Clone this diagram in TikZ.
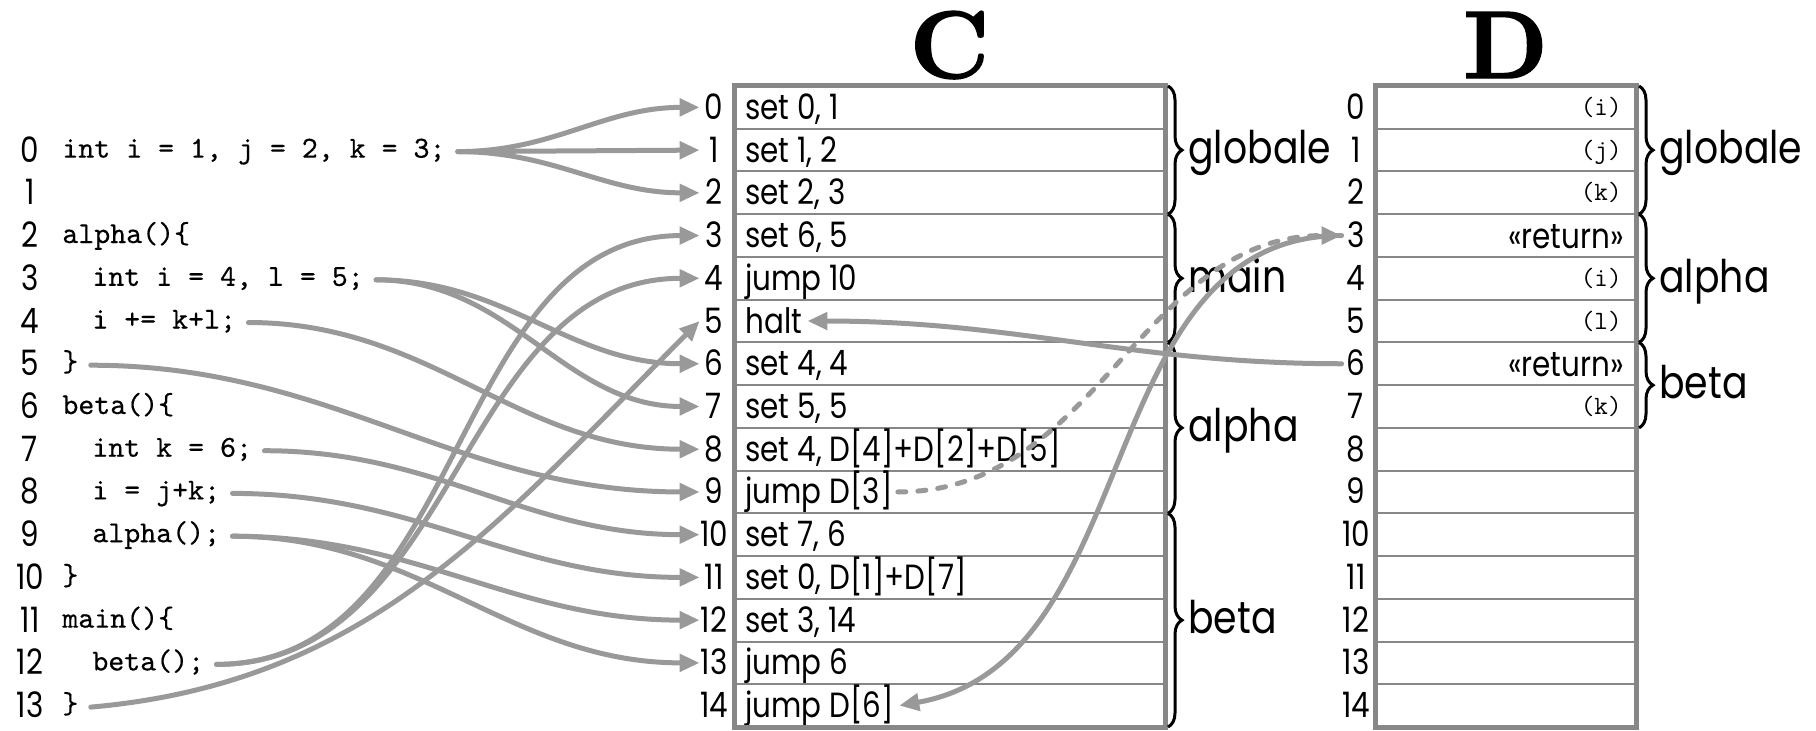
\documentclass[tikz,border=0pt]{standalone}
\usepackage{fontspec}
\usepackage{tikz}
\usetikzlibrary{arrows.meta,decorations.pathreplacing}

\newfontfamily\gothic[FakeStretch=0.84]{Poppins}
\newfontfamily\heavy[FakeBold=1.5]{lmroman10-bold.otf}
\newfontfamily\codefont[FakeBold=0.4]{lmmono10-regular.otf}
\definecolor{arrowgray}{gray}{0.6}
\definecolor{framegray}{gray}{0.53}

\tikzset{
  code/.style={anchor=base west, inner xsep=6pt, inner ysep=0pt,
    font=\codefont\fontsize{15.2}{17}\selectfont, text height=9pt, text depth=3pt},
  idx/.style={anchor=base, inner sep=0pt, minimum width=14pt,
    font=\gothic\fontsize{17.5}{20}\selectfont, text height=12pt, text depth=0pt},
  celltext/.style={anchor=base west, inner xsep=2.5pt, inner ysep=0pt,
    font=\gothic\fontsize{17.5}{20}\selectfont, text height=12pt, text depth=0pt},
  dtext/.style={anchor=base east, inner sep=0pt},
  ccell/.style={draw=framegray, line width=1pt, minimum width=214.5pt, minimum height=21.365pt, inner sep=0pt},
  dcell/.style={ccell, minimum width=129.5pt},
  frame/.style={draw=framegray, line width=2.5pt},
  title/.style={anchor=base, font=\heavy\fontsize{48}{50}\selectfont},
  brace/.style={decorate, decoration={brace, amplitude=7pt}, line width=1.5pt},
  part/.style={anchor=base west, inner sep=0pt, font=\gothic\fontsize{22.5}{24}\selectfont},
  arr/.style={draw=arrowgray, line width=2.5pt, line cap=round, -{Triangle[length=10pt,width=8.5pt]}},
  jumparr/.style={arr, dash pattern=on 4pt off 6pt}
}

\begin{document}
\begin{tikzpicture}[x=0.5pt,y=-0.5pt]
\useasboundingbox (0,0) rectangle (1816,730);

% source code
\foreach \k in {0,...,13}
  \node[idx] (n\k) at (30,{150.1+42.73*\k+12}) {\k};
\node[code] (l0) at (50,157.6) {int i = 1, j = 2, k = 3;};
\node[code] (l2) at (50,243.0) {alpha()\{};
\node[code] (l3) at (80,285.8) {int i = 4, l = 5;};
\node[code] (l4) at (80,328.5) {i += k+l;};
\node[code] (l5) at (50,371.2) {\}};
\node[code] (l6) at (50,414.0) {beta()\{};
\node[code] (l7) at (80,456.7) {int k = 6;};
\node[code] (l8) at (80,499.4) {i = j+k;};
\node[code] (l9) at (80,542.2) {alpha();};
\node[code] (l10) at (50,584.9) {\}};
\node[code] (l11) at (50,627.6) {main()\{};
\node[code] (l12) at (80,670.4) {beta();};
\node[code] (l13) at (50,713.1) {\}};

% memory C
\node[title] (ctitle) at (949.5,78) {C};
\foreach \i/\txt in {0/{set 0, 1},1/{set 1, 2},2/{set 2, 3},3/{set 6, 5},4/{jump 10},
    5/{halt},6/{set 4, 4},7/{set 5, 5},8/{set 4, D[4]+D[2]+D[5]},9/{jump D[3]},
    10/{set 7, 6},11/{set 0, D[1]+D[7]},12/{set 3, 14},13/{jump 6},14/{jump D[6]}}
{
  \node[ccell] (c\i) at (949.5,{86+42.73*(\i+0.5)}) {};
  \node[idx] (ci\i) at (714,{86+42.73*(\i+0.5)+12}) {\i};
  \node[celltext] (ct\i) at (740,{86+42.73*(\i+0.5)+12}) {\txt};
}
\draw[frame] (c0.north west) rectangle (c14.south east);

% memory D
\node[title] (dtitle) at (1505.5,78) {D};
\foreach \i in {0,...,14}
{
  \node[dcell] (d\i) at (1505.5,{86+42.73*(\i+0.5)}) {};
  \node[idx] (di\i) at (1356,{86+42.73*(\i+0.5)+12}) {\i};
}
\draw[frame] (d0.north west) rectangle (d14.south east);
\node[dtext, font=\fontsize{13.2}{15}\ttfamily] (dt0) at (1622,115.4) {(i)};
\node[dtext, font=\fontsize{13.2}{15}\ttfamily] (dt1) at (1622,158.1) {(j)};
\node[dtext, font=\fontsize{13.2}{15}\ttfamily] (dt2) at (1622,200.9) {(k)};
\node[dtext, font=\gothic\fontsize{17.5}{20}\selectfont] (dt3) at (1624,248.6) {«return»};
\node[dtext, font=\fontsize{13.2}{15}\ttfamily] (dt4) at (1622,286.3) {(i)};
\node[dtext, font=\fontsize{13.2}{15}\ttfamily] (dt5) at (1622,329.0) {(l)};
\node[dtext, font=\gothic\fontsize{17.5}{20}\selectfont] (dt6) at (1624,376.8) {«return»};
\node[dtext, font=\fontsize{13.2}{15}\ttfamily] (dt7) at (1622,414.5) {(k)};

% braces
\draw[brace] (1168,86) -- (1168,214.2);
\draw[brace] (1168,214.2) -- (1168,342.4);
\draw[brace] (1168,342.4) -- (1168,513.3);
\draw[brace] (1168,513.3) -- (1168,727);
\node[part] (pg) at (1188,163) {globale};
\node[part] (pm) at (1188,292) {main};
\node[part] (pa) at (1188,441) {alpha};
\node[part] (pb) at (1188,633) {beta};
\draw[brace] (1639,86) -- (1639,214.2);
\draw[brace] (1639,214.2) -- (1639,342.4);
\draw[brace] (1639,342.4) -- (1639,427.9);
\node[part] (qg) at (1659,163) {globale};
\node[part] (qa) at (1659,292) {alpha};
\node[part] (qb) at (1659,398) {beta};

% code -> C
\draw[arr] (l0.east) to[out=0,in=180] (ci0.west);
\draw[arr] (l0.east) -- (ci1.west);
\draw[arr] (l0.east) to[out=0,in=180] (ci2.west);
\draw[arr] (l3.east) to[out=0,in=180] (ci6.west);
\draw[arr] (l3.east) to[out=0,in=180] (ci7.west);
\draw[arr] (l4.east) to[out=0,in=180] (ci8.west);
\draw[arr] (l5.east) to[out=0,in=180] (ci9.west);
\draw[arr] (l7.east) to[out=0,in=180] (ci10.west);
\draw[arr] (l8.east) to[out=0,in=180] (ci11.west);
\draw[arr] (l9.east) to[out=0,in=180] (ci12.west);
\draw[arr] (l9.east) to[out=0,in=180] (ci13.west);
\draw[arr] (l12.east) to[out=0,in=180] (ci3.west);
\draw[arr] (l12.east) to[out=0,in=180] (ci4.west);
\draw[arr] (l13.east) to[out=5,in=225] (ci5.west);

% returns
\draw[arr] (di6.west) to[out=180,in=0] (ct5.east);
\draw[jumparr] (ct9.east) to[out=0,in=180] (di3.west);
\draw[arr] (di3.west) to[out=180,in=10] (ct14.east);

\end{tikzpicture}
\end{document}
